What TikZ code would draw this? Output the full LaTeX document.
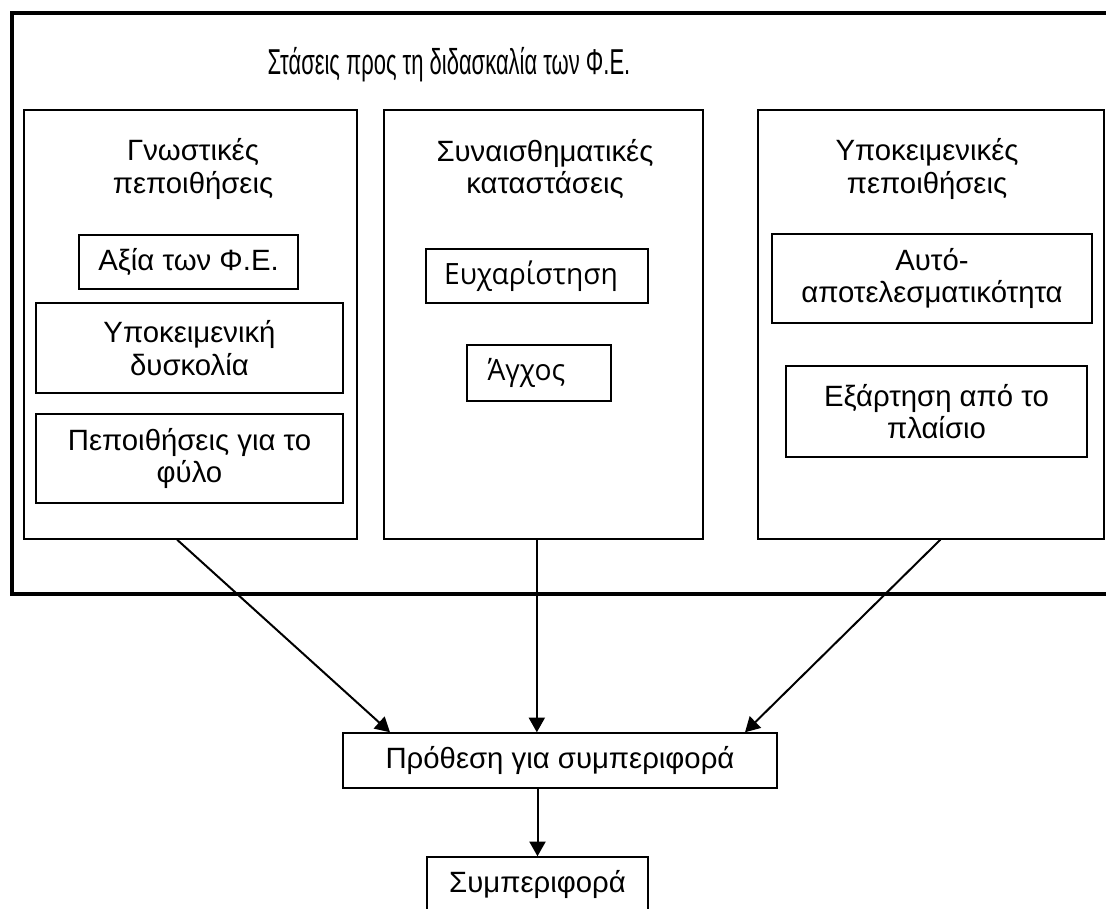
\documentclass[tikz,border=0pt]{standalone}
\usepackage{fontspec}
\setmainfont{Liberation Sans}
\newfontfamily\narrowsans{Liberation Sans}[FakeStretch=0.61]
\newfontfamily\opensans{Open Sans}[FakeStretch=0.96]
\usepackage{tikz}
\usetikzlibrary{arrows.meta}
\tikzset{
  box/.style={draw, line width=1.1pt, rectangle, inner sep=0pt, align=center},
  lbl/.style={align=center, inner sep=0pt},
  arr/.style={line width=1.5pt, -{Triangle[length=11pt, width=12pt]}}
}

\begin{document}
\begin{tikzpicture}[x=0.75pt, y=-0.75pt, font=\fontsize{22}{24.5}\selectfont]
\useasboundingbox (0,0) rectangle (1106,908);
\clip (0,0) rectangle (1106,908);
\node[box, line width=3pt, minimum width=831pt, minimum height=435.75pt] (frame) at (566,303.5) {};
\node[lbl, font=\narrowsans\fontsize{27}{30}\selectfont] (title) at (449,65) {Στάσεις προς τη διδασκαλία των Φ.Ε.};
\begin{scope}[every node/.style={box}]
  \node[minimum width=249.75pt, minimum height=321.75pt] (a) at (190.5,324.5) {};
  \node[minimum width=239.25pt, minimum height=321.75pt] (b) at (543.5,324.5) {};
  \node[minimum width=259.5pt, minimum height=321.75pt] (c) at (931,324.5) {};
  \node[minimum width=164.25pt, minimum height=40.5pt] (a1) at (188.5,262) {Αξία των Φ.Ε.};
  \node[minimum width=230.25pt, minimum height=67.5pt] (a2) at (189.5,348) {Υποκειμενική\\δυσκολία};
  \node[minimum width=230.25pt, minimum height=66.75pt] (a3) at (189.5,458.5) {Πεποιθήσεις για το\\φύλο};
  \node[minimum width=166.5pt, minimum height=40.5pt, font=\opensans\fontsize{22}{24}\selectfont] (b1) at (537,276) {Ευχαρίστηση\hspace{9pt}};
  \node[minimum width=108pt, minimum height=42pt, font=\opensans\fontsize{22}{24}\selectfont] (b2) at (539,373) {Άγχος\hspace{19pt}};
  \node[minimum width=240pt, minimum height=66.75pt] (c1) at (932,278.5) {Αυτό-\\αποτελεσματικότητα};
  \node[minimum width=225.75pt, minimum height=68.25pt] (c2) at (936.5,411.5) {Εξάρτηση από το\\πλαίσιο};
  \node[minimum width=325.5pt, minimum height=41.25pt] (intent) at (560,760.5) {Πρόθεση για συμπεριφορά};
  \node[minimum width=165.75pt, minimum height=41.25pt] (behav) at (537.5,884.5) {Συμπεριφορά};
\end{scope}
\node[lbl] (ta) at (193,169) {Γνωστικές\\πεποιθήσεις};
\node[lbl] (tb) at (545,169) {Συναισθηματικές\\καταστάσεις};
\node[lbl] (tc) at (927,169) {Υποκειμενικές\\πεποιθήσεις};
\draw[arr] ([xshift=-10pt]a.south) -- ([xshift=-127.5pt]intent.north);
\draw[arr] ([xshift=-5pt]b.south) -- ([xshift=-5pt]b.south |- intent.north);
\draw[arr] ([xshift=7pt]c.south) -- ([xshift=138.75pt]intent.north);
\draw[arr] (intent.south -| behav.north) -- (behav.north);
\end{tikzpicture}
\end{document}
